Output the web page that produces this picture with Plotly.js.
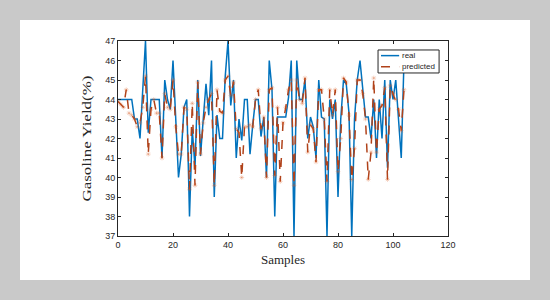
<!DOCTYPE html>
<html>
<head>
<meta charset="utf-8">
<script src="https://cdn.plot.ly/plotly-3.0.1.min.js"></script>
<style>
  html, body { margin: 0; padding: 0; background: #c9c9c9; }
  #chart { position: absolute; left: 20px; top: 20px; width: 510px; height: 260px; background: #fff; }
</style>
</head>
<body>
<div id="chart"></div>
<script>
// sample index 0..104
var samples = [];
for (var i = 0; i < 105; i++) samples.push(i);

var realYield = [
  44, 44, 44, 44, 44, 44, 43, 43, 42, 44.5,
  47, 42.3, 44, 44, 44, 44, 41, 45, 44, 43.5,
  46, 42.6, 40, 41.2, 43.6, 44, 38, 42.5, 40.5, 45,
  41.1, 43, 44.8, 43.2, 46, 39, 43.2, 42, 42, 45.2,
  47, 43.7, 45, 41, 43, 41.9, 44, 44, 41.2, 42.7,
  44, 44, 42.1, 43.1, 40, 46, 44.5, 38, 43.1, 43.1,
  43.1, 43.1, 44.1, 46, 37, 46, 44, 44, 45, 42,
  43.1, 42.6, 41, 45, 43.1, 43, 37, 44, 43, 44,
  39, 43, 45, 44.8, 43.3, 37, 43, 45, 46, 44.4,
  43.1, 43.1, 42, 44, 41, 44, 42, 45, 40.5, 45,
  44, 45, 43, 41, 46
];

var predictedYield = [
  43.9, 43.75, 43.6, 44.5, 43.3, 43.2, 43.0, 42.6, 42.8, 43.6,
  45.2, 41.2, 43.5, 44.0, 43.3, 43.3, 41.0, 44.3, 43.6, 43.5,
  45.0, 42.6, 41.2, 41.2, 43.6, 43.5, 39.4, 43.8, 39.6, 44.9,
  41.2, 42.8, 43.6, 44.0, 44.3, 39.6, 44.5, 43.4, 43.3, 45.0,
  45.2, 44.2, 44.9, 42.5, 42.3, 40.0, 42.6, 42.6, 42.7, 42.6,
  44.0, 44.5, 42.5, 43.1, 40.0, 44.5, 44.6, 40.1, 43.6, 39.8,
  42.8, 43.6, 44.5, 45.0, 39.6, 45.0, 44.0, 43.8, 45.1, 41.3,
  42.7, 42.5, 40.8, 44.5, 44.5, 43.0, 39.8, 44.5, 43.2, 44.5,
  40.3, 42.0, 45.1, 44.9, 43.2, 39.9, 41.5, 45.0, 45.0, 44.3,
  43.0, 39.9, 41.3, 45.1, 41.3, 43.5, 43.7, 44.6, 39.9, 44.7,
  44.3, 44.0, 43.5, 42.4, 44.5
];

var seriesNames = ["real", "predicted"];
var blue = "#0072BD";
var red = "#B0421A";

var realTrace = {
  x: samples,
  y: realYield,
  mode: "lines",
  name: seriesNames[0],
  line: {color: blue, width: 1.5}
};

var predTrace = {
  x: samples,
  y: predictedYield,
  mode: "lines+markers",
  name: seriesNames[1],
  line: {color: red, width: 1.5, dash: "dash"},
  marker: {symbol: "asterisk-open", size: 4, color: "rgba(217,83,25,0.25)", line: {width: 1, color: "rgba(217,83,25,0.25)"}}
};

var tickFont = {family: "Liberation Sans, Arial, sans-serif", size: 9, color: "#262626"};
var titleFont = {family: "Liberation Serif, Times New Roman, serif", size: 13, color: "#262626"};
var legFont = {family: "Liberation Sans, Arial, sans-serif", size: 8, color: "#262626"};

// small hand-made legend box (matlab style, tighter than plotly's)
var shapes = [
  {type: "rect", xref: "paper", yref: "paper", x0: 0.788, x1: 0.973, y0: 0.836, y1: 0.954,
   line: {color: "#262626", width: 1}, fillcolor: "#ffffff", layer: "above"},
  {type: "line", xref: "paper", yref: "paper", x0: 0.797, x1: 0.852, y0: 0.925, y1: 0.925,
   line: {color: blue, width: 1.5}, layer: "above"},
  {type: "line", xref: "paper", yref: "paper", x0: 0.797, x1: 0.852, y0: 0.868, y1: 0.868,
   line: {color: red, width: 1.5, dash: "dash"}, layer: "above"}
];
var annotations = [
  {xref: "paper", yref: "paper", x: 0.855, y: 0.925, xanchor: "left", yanchor: "middle",
   text: seriesNames[0], showarrow: false, font: legFont},
  {xref: "paper", yref: "paper", x: 0.855, y: 0.868, xanchor: "left", yanchor: "middle",
   text: seriesNames[1], showarrow: false, font: legFont}
];

var layout = {
  width: 510,
  height: 260,
  margin: {l: 98, r: 82, t: 21, b: 44},
  paper_bgcolor: "#ffffff",
  plot_bgcolor: "#ffffff",
  showlegend: false,
  shapes: shapes,
  annotations: annotations,
  xaxis: {
    range: [0, 120], dtick: 20, tick0: 0,
    ticks: "inside", ticklen: 3, tickcolor: "#262626",
    showline: true, linecolor: "#262626", linewidth: 1, mirror: "ticks",
    showgrid: false, zeroline: false,
    tickfont: tickFont,
    title: {text: "Samples", font: titleFont, standoff: 6}
  },
  yaxis: {
    range: [37, 47], dtick: 1, tick0: 37,
    ticks: "inside", ticklen: 3, tickcolor: "#262626",
    showline: true, linecolor: "#262626", linewidth: 1, mirror: "ticks",
    showgrid: false, zeroline: false,
    tickfont: tickFont,
    title: {text: "Gasoline Yield(%)", font: titleFont, standoff: 10}
  }
};

Plotly.newPlot("chart", [realTrace, predTrace], layout, {displayModeBar: false, staticPlot: true}).then(function () {
  // the reference title is stretched along the axis
  var yt = document.querySelector("#chart .ytitle");
  if (yt) {
    yt.setAttribute("textLength", "126");
    yt.setAttribute("lengthAdjust", "spacingAndGlyphs");
  }
});
</script>
</body>
</html>
